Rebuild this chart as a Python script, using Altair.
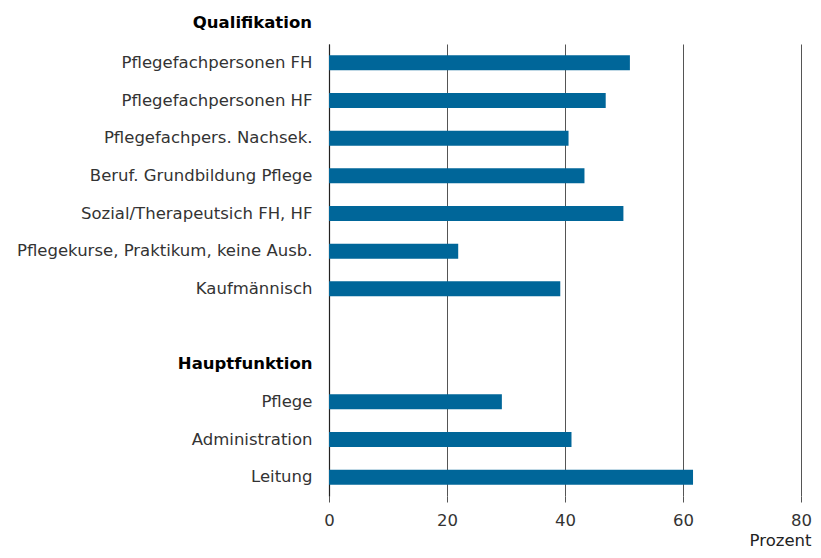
import altair as alt
import pandas as pd

categories = [
    "Pflegefachpersonen FH",
    "Pflegefachpersonen HF",
    "Pflegefachpers. Nachsek.",
    "Beruf. Grundbildung Pflege",
    "Sozial/Therapeutsich FH, HF",
    "Pflegekurse, Praktikum, keine Ausb.",
    "Kaufmännisch",
    " ",
    "Hauptfunktion",
    "Pflege",
    "Administration",
    "Leitung",
]
values = [51.0, 46.9, 40.6, 43.3, 49.9, 21.9, 39.2, None, None, 29.3, 41.1, 61.7]
x_ticks = [0, 20, 40, 60, 80]
top_heading = ["Qualifikation"]

df = pd.DataFrame({"cat": categories, "val": values}).dropna()
df_head = pd.DataFrame({"label": top_heading})

W, H = 472, 452
FONT = "DejaVu Sans"
FS = 16.5

bars = alt.Chart(df).mark_bar(color="#006699", size=15).encode(
    x=alt.X(
        "val:Q",
        scale=alt.Scale(domain=[0, 80], nice=False),
        axis=alt.Axis(
            values=x_ticks,
            title="Prozent",
            titleFont=FONT,
            titleFontSize=FS,
            titleFontWeight="normal",
            titleColor="#222",
            titleAlign="right",
            titleAnchor="end",
            titleX=482,
            titleY=49,
            titleBaseline="alphabetic",
            domain=False,
            grid=True,
            gridColor="#555",
            gridWidth=1,
            tickColor="#555",
            tickSize=6,
            labelPadding=10,
            labelFont=FONT,
            labelFontSize=FS,
            labelColor="#333",
            labelFlush=False,
        ),
    ),
    y=alt.Y(
        "cat:N",
        sort=categories,
        scale=alt.Scale(domain=categories, paddingInner=0, paddingOuter=0),
        axis=alt.Axis(
            title=None,
            domain=True,
            domainColor="#222",
            domainWidth=1.2,
            ticks=False,
            labelPadding=17,
            labelFont=FONT,
            labelFontSize=FS,
            labelColor=alt.condition("datum.value == 'Hauptfunktion'", alt.value("#000"), alt.value("#333")),
            labelFontWeight=alt.condition("datum.value == 'Hauptfunktion'", alt.value("bold"), alt.value("normal")),
            labelLimit=400,
        ),
    ),
)

head = alt.Chart(df_head).mark_text(
    align="right",
    baseline="middle",
    font=FONT,
    fontSize=FS,
    fontWeight="bold",
    color="#000",
).encode(
    text="label:N",
    x=alt.value(-17),
    y=alt.value(-21),
)

chart = alt.layer(bars, head).properties(
    width=W,
    height=H,
    autosize=alt.AutoSizeParams(type="none"),
    padding={"left": 321, "top": 36, "right": 12, "bottom": 54},
).configure_view(stroke=None)

chart.save("out.html", embed_options={"renderer": "svg", "actions": False})
